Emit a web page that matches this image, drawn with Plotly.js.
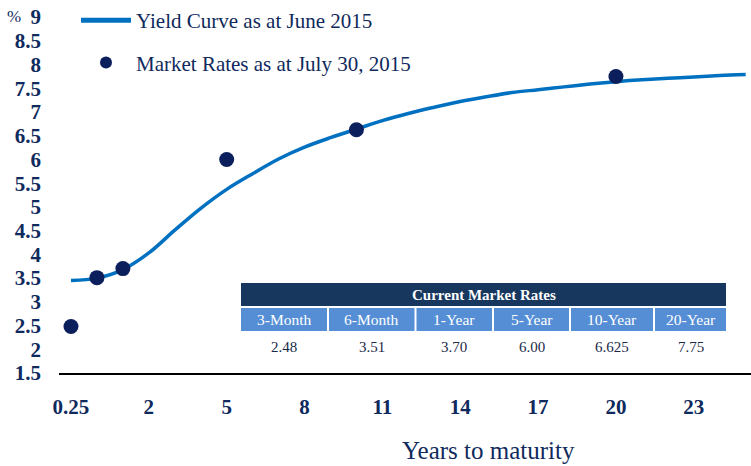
<!DOCTYPE html>
<html><head><meta charset="utf-8">
<script src="https://cdn.plot.ly/plotly-3.0.1.min.js"></script>
<style>html,body{margin:0;padding:0;background:#fff}#chart{width:751px;height:466px}</style>
</head><body><div id="chart"></div>
<script>
// ---- data ----
const curveX = [-1,0,1,2,3,4,5,6,7,8,9,10,11,12,13,14,15,16,17,18,19,20,21,22,23,24,25];
const curveY = [3.45,3.50,3.68,4.03,4.51,4.97,5.37,5.70,6.01,6.26,6.46,6.64,6.82,6.97,7.10,7.22,7.32,7.41,7.47,7.53,7.59,7.64,7.68,7.71,7.74,7.77,7.79];
const marketTerms = ['3-Month','6-Month','1-Year','5-Year','10-Year','20-Year'];
const marketX = [-1,0,1,5,10,20];
const marketRates = [2.48,3.51,3.70,6.00,6.625,7.75];
const marketRateText = ['2.48','3.51','3.70','6.00','6.625','7.75'];
const xTickVals = [-1,2,5,8,11,14,17,20,23];
const xTickText = ['0.25','2','5','8','11','14','17','20','23'];
const yTickVals = [1.5,2,2.5,3,3.5,4,4.5,5,5.5,6,6.5,7,7.5,8,8.5,9];
const curveName = 'Yield Curve as at June 2015';
const marketName = 'Market Rates as at July 30, 2015';
const tableTitle = 'Current Market Rates';
const xTitle = 'Years to maturity';
const yUnit = '%';

// ---- layout helpers (pixel -> paper) ----
const W = 751, H = 466, ML = 59, MR = 0, MT = 0, MB = 93;
const PW = W - ML - MR, PH = H - MT - MB;
const px = v => (v - ML) / PW;
const py = v => (H - MB - v) / PH;
const NAVY = '#0f2a5c';
const SERIF = 'Liberation Serif';

// table geometry (pixels)
const colEdges = [241, 328, 415.5, 493, 570, 654, 726];
const titleTop = 283, titleBot = 306, hdrTop = 308, hdrBot = 331, valY = 347;

const shapes = [];
const annotations = [];
shapes.push({type:'rect', xref:'paper', yref:'paper', x0:px(colEdges[0]), x1:px(colEdges[colEdges.length-1]), y0:py(titleBot), y1:py(titleTop), fillcolor:'#17375e', line:{width:0}, layer:'above'});
annotations.push({xref:'paper', yref:'paper', x:px((colEdges[0]+colEdges[colEdges.length-1])/2), y:py((titleTop+titleBot)/2), text:'<b>'+tableTitle+'</b>', showarrow:false, xanchor:'center', yanchor:'middle', font:{family:SERIF, size:15, color:'#ffffff'}});
marketTerms.forEach((t,i)=>{
  const a = colEdges[i] + (i===0?0:1), b = colEdges[i+1] - (i===marketTerms.length-1?0:1);
  shapes.push({type:'rect', xref:'paper', yref:'paper', x0:px(a), x1:px(b), y0:py(hdrBot), y1:py(hdrTop), fillcolor:'#558ed5', line:{width:0}, layer:'above'});
  annotations.push({xref:'paper', yref:'paper', x:px((a+b)/2), y:py((hdrTop+hdrBot)/2), text:t, showarrow:false, xanchor:'center', yanchor:'middle', font:{family:SERIF, size:15.5, color:'#ffffff'}});
  annotations.push({xref:'paper', yref:'paper', x:px((a+b)/2), y:py(valY), text:marketRateText[i], showarrow:false, xanchor:'center', yanchor:'middle', font:{family:SERIF, size:15, color:'#1b2a48'}});
});
annotations.push({xref:'paper', yref:'paper', x:px(14), y:py(16), text:yUnit, showarrow:false, xanchor:'center', yanchor:'middle', font:{family:SERIF, size:17, color:NAVY}});
annotations.push({xref:'paper', yref:'paper', x:px(488), y:py(451), text:xTitle, showarrow:false, xanchor:'center', yanchor:'middle', font:{family:SERIF, size:25, color:NAVY}});

const traces = [
  {x:curveX, y:curveY, type:'scatter', mode:'lines', name:curveName, legendgroup:'a',
   line:{color:'#0070c0', width:3.5, shape:'spline', smoothing:1}, hoverinfo:'skip'},
  {x:marketX, y:marketRates, type:'scatter', mode:'markers', name:marketName, legendgroup:'b',
   marker:{color:'#0b1f5c', size:15}, hoverinfo:'skip'}
];

const tickFont = {family:SERIF, size:21, color:NAVY, weight:'bold'};
const layout = {
  width:W, height:H, margin:{l:ML, r:MR, t:MT, b:MB, pad:0},
  paper_bgcolor:'#ffffff', plot_bgcolor:'#ffffff',
  showlegend:true,
  legend:{x:px(76), y:1, xanchor:'left', yanchor:'top', bgcolor:'rgba(0,0,0,0)', borderwidth:0,
    font:{family:SERIF, size:21, color:NAVY}, traceorder:'grouped', tracegroupgap:12, itemwidth:50,
    itemsizing:'constant'},
  xaxis:{range:[-1.462, 25.205], tickmode:'array', tickvals:xTickVals, ticktext:xTickText,
    showline:true, linecolor:'#000000', linewidth:1.5, ticks:'', showgrid:false, zeroline:false,
    tickfont:tickFont, ticklabelstandoff:14, fixedrange:true},
  yaxis:{range:[1.5, 1.5 + PH/47.45], tickmode:'array', tickvals:yTickVals,
    showline:false, ticks:'', showgrid:false, zeroline:false,
    tickfont:tickFont, ticklabelstandoff:17, fixedrange:true},
  shapes:shapes, annotations:annotations
};
Plotly.newPlot('chart', traces, layout, {displayModeBar:false, staticPlot:true});
</script>
</body></html>
